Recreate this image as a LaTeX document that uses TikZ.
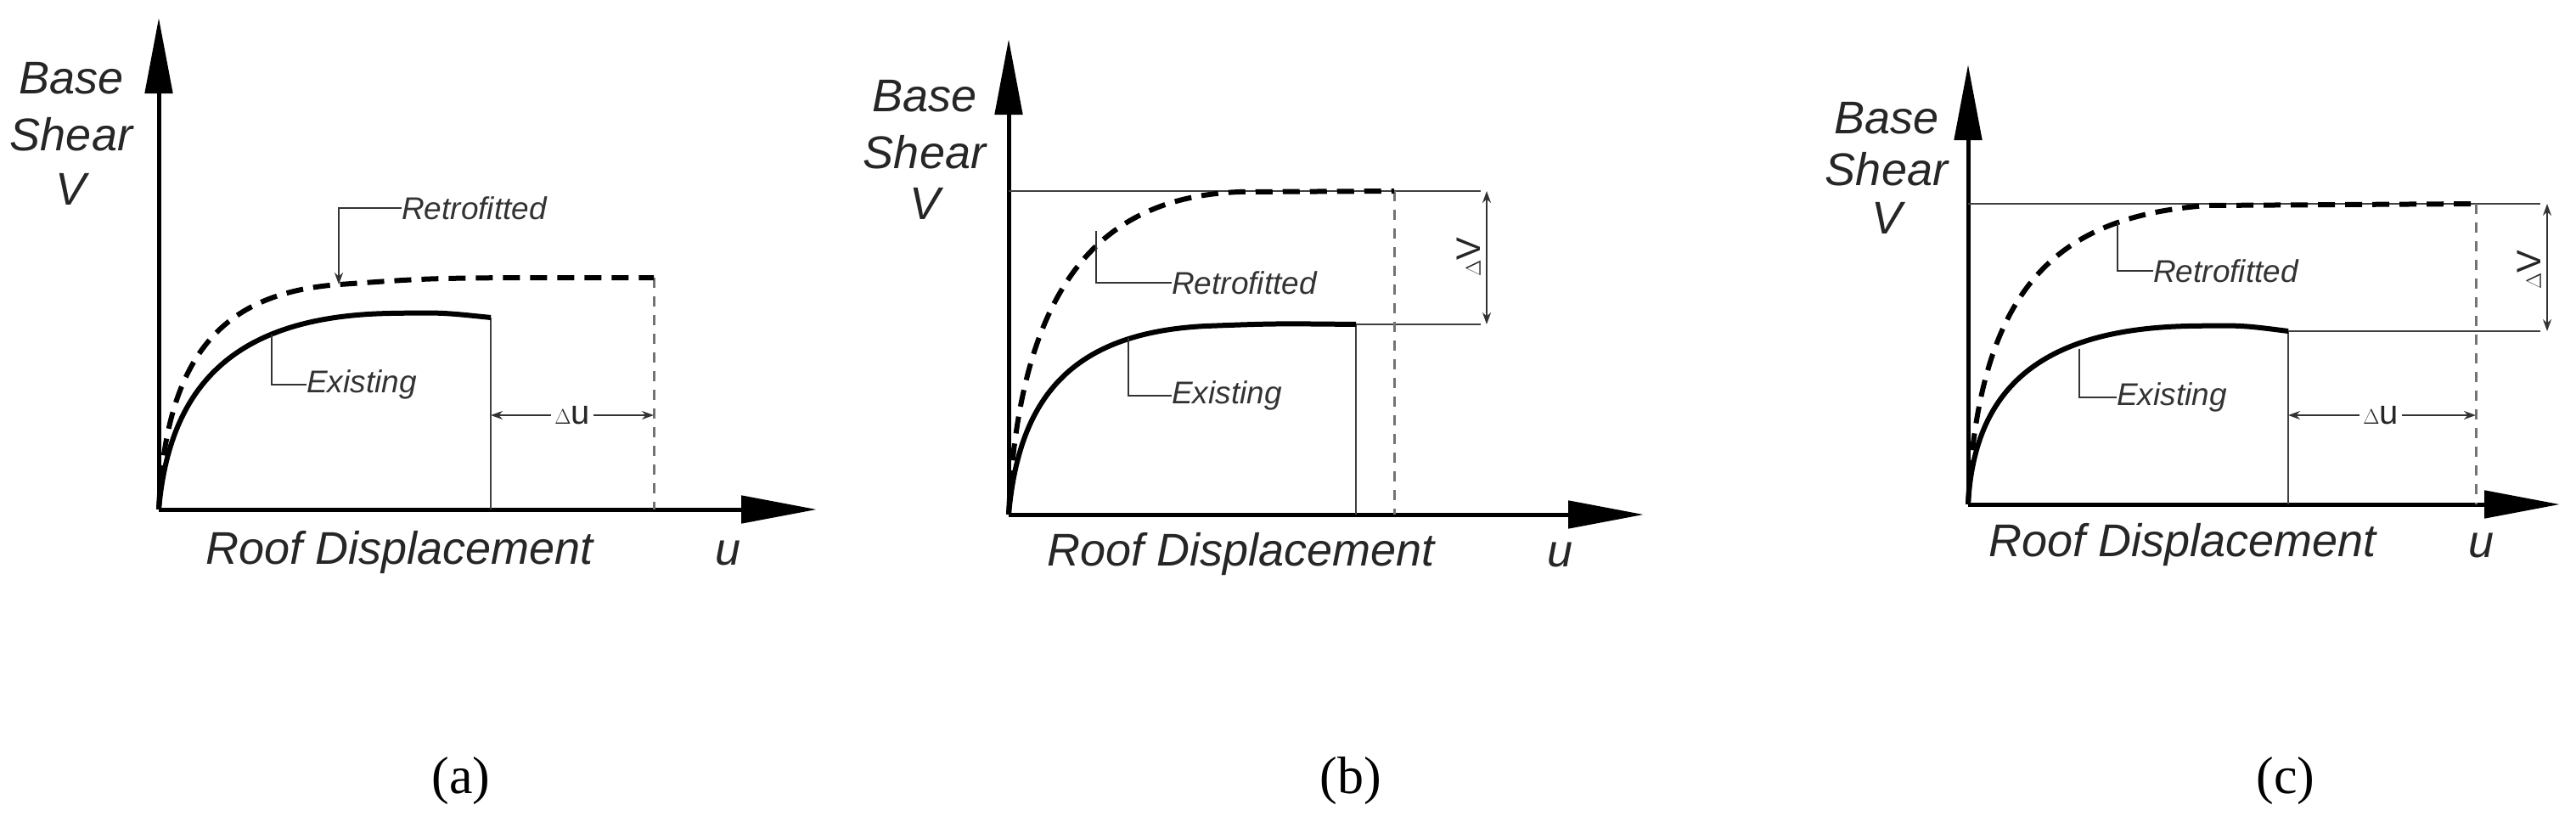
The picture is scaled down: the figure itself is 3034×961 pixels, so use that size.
\documentclass[tikz,border=0pt]{standalone}
\usepackage{fontspec}
\setmainfont{Liberation Sans}
\newfontfamily\serifcap{Liberation Serif}
\usetikzlibrary{arrows.meta}
\begin{document}
\begin{tikzpicture}[x=1pt,y=-1pt,
  axis/.style={line width=5pt,-{Triangle[length=89pt,width=32pt]}},
  exist/.style={line width=6pt},
  retro/.style={line width=6pt,dash pattern=on 20pt off 12pt},
  thin/.style={line width=2pt,black!75},
  gdash/.style={line width=3pt,black!55,dash pattern=on 12pt off 10pt},
  lead/.style={line width=2pt,black!80},
  dim/.style={line width=2pt,black!80,-{Stealth[length=14pt,width=10pt]}},
  ax/.style={font=\fontsize{54}{60}\selectfont\itshape,text=black!85,inner sep=0pt},
  lab/.style={font=\fontsize{37}{42}\selectfont\itshape,text=black!80,inner sep=0pt,anchor=west},
  subcap/.style={font=\serifcap\fontsize{62}{70}\selectfont,inner sep=0pt}]
\useasboundingbox (0,0) rectangle (3034,961);
% ================= (a)
\coordinate (ao) at (187,600);
\coordinate (ay) at (187,21);
\coordinate (ax) at (962,600);
\draw[axis] (ao) -- (ay);
\draw[axis] (ao) -- (ax);
\node[ax] (aB) at (84,92) {Base};
\node[ax] (aS) at (84,158) {Shear};
\node[ax] (aV) at (84,223) {V};
\node[ax] (aR) at (471,651) {Roof Displacement};
\node[ax] (au) at (858,651) {u};
\coordinate (aE) at (578,374);
\coordinate (aEb) at (578,600);
\coordinate (aT) at (770,327);
\coordinate (aTb) at (770,600);
\draw[thin] (aE) -- (aEb);
\draw[gdash] (aT) -- (aTb);
\draw[exist] (ao) .. controls (200,450) and (280,372) .. (460,369) .. controls (520,368) .. (aE);
\draw[retro] (ao) .. controls (195,420) and (260,345) .. (400,335) .. controls (500,328) .. (600,327) -- (aT);
\node[lab] (aRt) at (473,245) {Retrofitted};
\coordinate (aRp) at (399,335);
\draw[lead,-{Stealth[length=14pt,width=10pt]}] (aRt.west) -| (aRp);
\node[lab] (aEx) at (361,453) {Existing};
\coordinate (aEp) at (320,394);
\draw[lead] (aEp) |- (aEx.west);
\node[font=\fontsize{40}{44}\selectfont,text=black!85,inner sep=4pt] (adu) at (674,489) {$\Delta$u};
\coordinate (aL) at (578,489);
\coordinate (aRr) at (770,489);
\draw[dim] (adu.west) -- (aL);
\draw[dim] (adu.east) -- (aRr);
\node[subcap] (acap) at (543,920) {(a)};
% ================= (b)
\coordinate (bo) at (1188,606);
\coordinate (by) at (1188,46);
\coordinate (bx) at (1936,606);
\draw[axis] (bo) -- (by);
\draw[axis] (bo) -- (bx);
\node[ax] (bB) at (1089,113) {Base};
\node[ax] (bS) at (1089,179) {Shear};
\node[ax] (bV) at (1089,240) {V};
\node[ax] (bR) at (1462,653) {Roof Displacement};
\node[ax] (bu) at (1837,653) {u};
\coordinate (btl) at (1188,225);
\coordinate (btr) at (1744,225);
\coordinate (bE) at (1597,382);
\coordinate (bEr) at (1744,382);
\coordinate (bEb) at (1597,606);
\coordinate (bT) at (1642,225);
\coordinate (bTb) at (1642,606);
\draw[thin] (btl) -- (btr);
\draw[thin] (bE) -- (bEr);
\draw[thin] (bE) -- (bEb);
\draw[gdash] (bT) -- (bTb);
\draw[exist] (bo) .. controls (1200,470) and (1260,392) .. (1420,384) .. controls (1500,381) .. (bE);
\draw[retro] (bo) .. controls (1200,330) and (1300,232) .. (1460,226) -- (bT);
\node[lab] (bRt) at (1380,333) {Retrofitted};
\coordinate (bRp) at (1291,272);
\draw[lead] (bRp) |- (bRt.west);
\node[lab] (bEx) at (1380,466) {Existing};
\coordinate (bEp) at (1329,398);
\draw[lead] (bEp) |- (bEx.west);
\coordinate (bVt) at (1751,225);
\coordinate (bVb) at (1751,382);
\draw[line width=2pt,black!80,{Stealth[length=14pt,width=10pt]}-{Stealth[length=14pt,width=10pt]}] (bVt) -- (bVb);
\node[font=\fontsize{40}{44}\selectfont,text=black!85,inner sep=0pt,rotate=90] (bdV) at (1730,303) {$\Delta$V};
\node[subcap] (bcap) at (1591,920) {(b)};
% ================= (c)
\coordinate (co) at (2318,594);
\coordinate (cy) at (2318,76);
\coordinate (cx) at (3015,594);
\draw[axis] (co) -- (cy);
\draw[axis] (co) -- (cx);
\node[ax] (cB) at (2222,139) {Base};
\node[ax] (cS) at (2222,199) {Shear};
\node[ax] (cV) at (2222,257) {V};
\node[ax] (cR) at (2571,642) {Roof Displacement};
\node[ax] (cu) at (2922,642) {u};
\coordinate (ctl) at (2318,240);
\coordinate (ctr) at (2992,240);
\coordinate (cE) at (2695,390);
\coordinate (cEr) at (2992,390);
\coordinate (cEb) at (2695,594);
\coordinate (cT) at (2916,240);
\coordinate (cTb) at (2916,594);
\draw[thin] (ctl) -- (ctr);
\draw[thin] (cE) -- (cEr);
\draw[thin] (cE) -- (cEb);
\draw[gdash] (cT) -- (cTb);
\draw[exist] (co) .. controls (2325,460) and (2400,388) .. (2577,384) .. controls (2640,383) .. (cE);
\draw[retro] (co) .. controls (2330,340) and (2420,255) .. (2600,242) -- (cT);
\node[lab] (cRt) at (2536,319) {Retrofitted};
\coordinate (cRp) at (2494,262);
\draw[lead] (cRp) |- (cRt.west);
\node[lab] (cEx) at (2493,468) {Existing};
\coordinate (cEp) at (2449,411);
\draw[lead] (cEp) |- (cEx.west);
\coordinate (cVt) at (3000,240);
\coordinate (cVb) at (3000,390);
\draw[line width=2pt,black!80,{Stealth[length=14pt,width=10pt]}-{Stealth[length=14pt,width=10pt]}] (cVt) -- (cVb);
\node[font=\fontsize{40}{44}\selectfont,text=black!85,inner sep=0pt,rotate=90] (cdV) at (2979,318) {$\Delta$V};
\node[font=\fontsize{40}{44}\selectfont,text=black!85,inner sep=4pt] (cdu) at (2804,489) {$\Delta$u};
\coordinate (cL) at (2695,489);
\coordinate (cRr) at (2916,489);
\draw[dim] (cdu.west) -- (cL);
\draw[dim] (cdu.east) -- (cRr);
\node[subcap] (ccap) at (2692,920) {(c)};
\end{tikzpicture}
\end{document}
